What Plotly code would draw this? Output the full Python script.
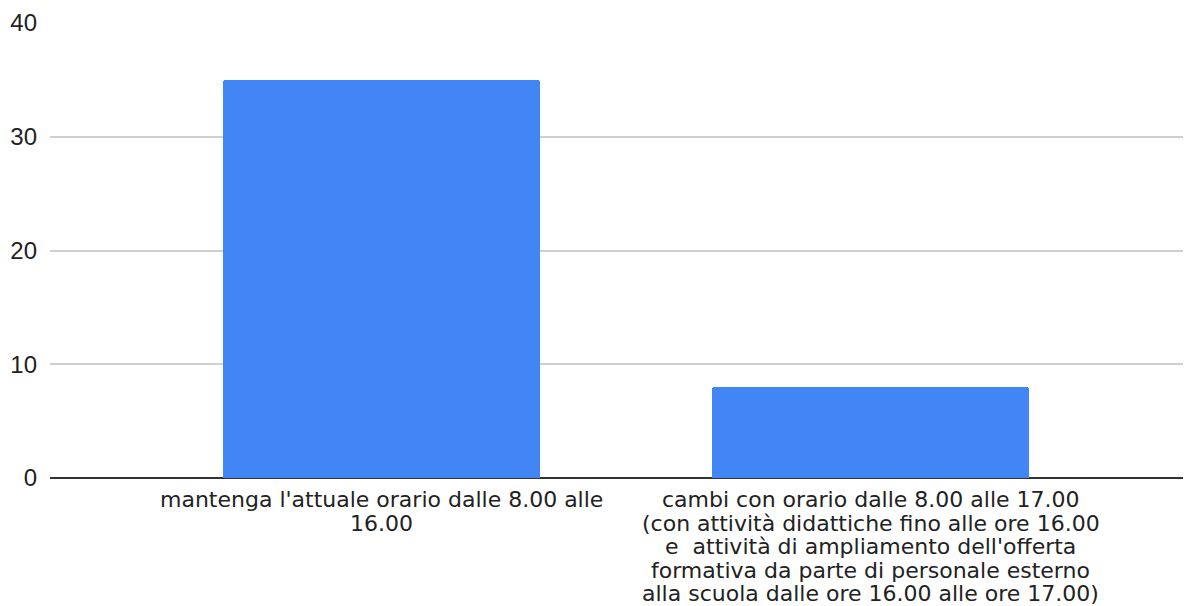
import plotly.graph_objects as go

# category labels, one list of text lines per category
category_lines = [
    ["mantenga l'attuale orario dalle 8.00 alle", "16.00"],
    [
        "cambi con orario dalle 8.00 alle 17.00",
        "(con attività didattiche fino alle ore 16.00",
        "e  attività di ampliamento dell'offerta",
        "formativa da parte di personale esterno",
        "alla scuola dalle ore 16.00 alle ore 17.00)",
    ],
]
values = [35, 8]
y_ticks = [0, 10, 20, 30, 40]

positions = list(range(len(values)))

fig = go.Figure(
    go.Bar(
        x=positions,
        y=values,
        width=0.648,
        marker=dict(color="#4285F4", cornerradius=3, line=dict(width=0)),
    )
)

LABEL_FONT = dict(family="DejaVu Sans, Liberation Sans, sans-serif", size=22, color="#222222")
LINE_STEP = 23.5
annotations = []
for pos, lines in zip(positions, category_lines):
    for i, line in enumerate(lines):
        annotations.append(
            dict(
                x=pos,
                xref="x",
                y=0,
                yref="paper",
                yanchor="top",
                xanchor="center",
                yshift=-8 - i * LINE_STEP,
                text=line,
                showarrow=False,
                font=LABEL_FONT,
                borderpad=0,
            )
        )

fig.update_layout(
    width=1191,
    height=606,
    margin=dict(l=42, r=8, t=15, b=136, autoexpand=False),
    plot_bgcolor="white",
    paper_bgcolor="white",
    font=dict(family="Liberation Sans, Arial, sans-serif", size=19, color="#222222"),
    showlegend=False,
    bargap=0,
    annotations=annotations,
)
fig.update_xaxes(
    range=[-0.678, 1.655],
    tickvals=positions,
    showticklabels=False,
    showgrid=False,
    zeroline=False,
    showline=False,
    ticks="",
    automargin=False,
)
fig.update_yaxes(
    range=[0, 40],
    tickvals=y_ticks,
    showgrid=True,
    gridcolor="#cfcfcf",
    gridwidth=1.5,
    zeroline=True,
    zerolinecolor="#333333",
    zerolinewidth=2,
    ticks="",
    tickfont=dict(size=24, color="#222222"),
    ticklabelstandoff=12,
    automargin=False,
)

fig.write_html("out.html")
